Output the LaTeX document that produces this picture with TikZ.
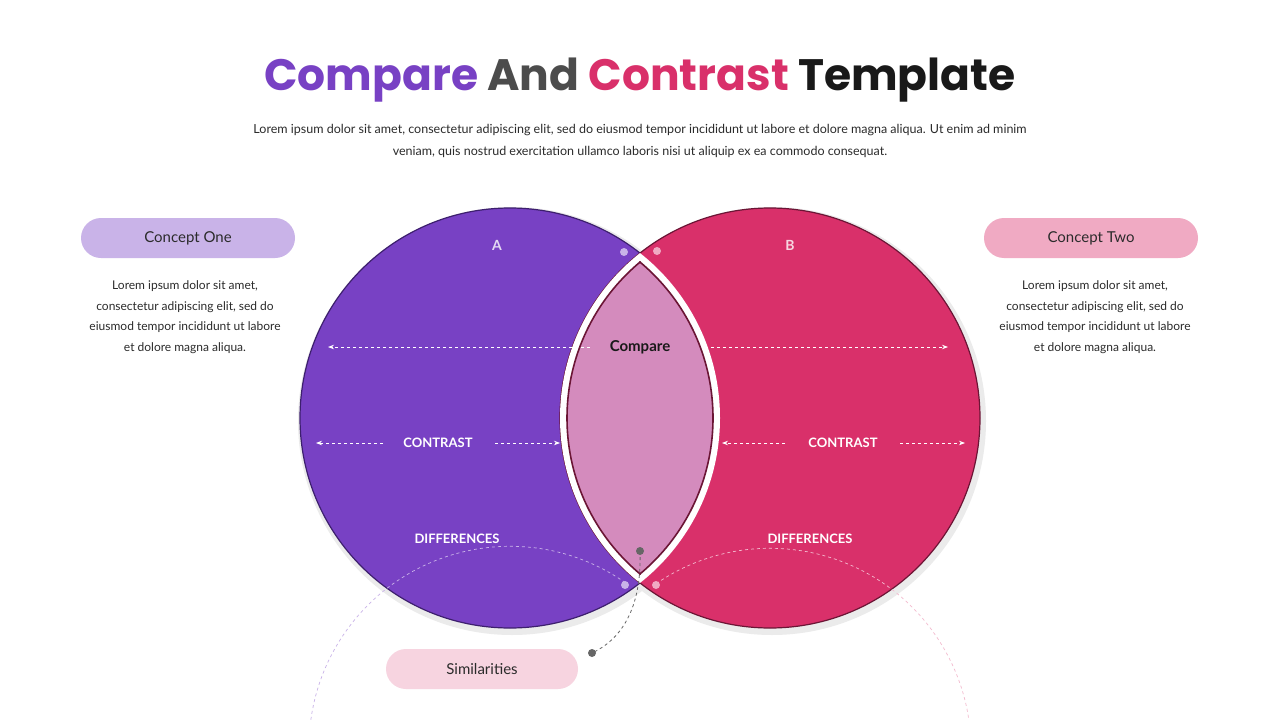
\documentclass[tikz,border=0pt]{standalone}
\usepackage{fontspec}
\setmainfont{Lato}
\newfontfamily\titlefont{Poppins}
\usetikzlibrary{arrows.meta}
\definecolor{cpurple}{HTML}{7841C4}
\definecolor{cpink}{HTML}{D9306A}
\definecolor{clens}{HTML}{D48BBD}
\definecolor{dpurple}{HTML}{3D1F6E}
\definecolor{dmaroon}{HTML}{6B1535}
\definecolor{pillA}{HTML}{C9B3E8}
\definecolor{pillB}{HTML}{F0AAC3}
\definecolor{pillC}{HTML}{F7D4E0}
\definecolor{txt}{HTML}{2B2B2B}
\begin{document}
\begin{tikzpicture}[x=1pt,y=-1pt,
  pill/.style={rounded corners=20pt,minimum width=214pt,minimum height=40pt,font=\fontsize{15}{18}\selectfont,text=txt},
  body/.style={align=center,font=\fontsize{12}{20.5}\selectfont,text=txt},
  lbl/.style={text=white,font=\bfseries\fontsize{13}{15}\selectfont},
  arr/.style={white,dashed,line width=0.8pt,-{Stealth[length=6pt]}},
  inner/.style={dashed,line width=0.7pt}]
\useasboundingbox[fill=white] (0,0) rectangle (1280,720);
% title
\node (title) at (640,80) {\titlefont\bfseries\fontsize{44}{50}\selectfont\textcolor{cpurple}{Compare} \textcolor{black!70}{And} \textcolor{cpink}{Contrast} \textcolor{black!90}{Template}};
\node[body,font=\fontsize{12.5}{22}\selectfont] (sub) at (640,141) {Lorem ipsum dolor sit amet, consectetur adipiscing elit, sed do eiusmod tempor incididunt ut labore et dolore magna aliqua. Ut enim ad minim\\veniam, quis nostrud exercitation ullamco laboris nisi ut aliquip ex ea commodo consequat.};
% circles
\fill[black!8] (512,421) circle (214pt);
\fill[black!8] (772,421) circle (214pt);
\fill[white] (510,418) circle (210pt);
\fill[white] (770,418) circle (210pt);
\draw[fill=cpurple,draw=dpurple,line width=1.2pt] (510,418) circle (210pt);
\draw[fill=cpink,draw=dmaroon,line width=1.2pt] (770,418) circle (210pt);
\begin{scope}
\clip (510,418) circle (210pt);
\fill[white] (770,418) circle (210pt);
\end{scope}
\begin{scope}
\clip (510,418) circle (203pt);
\fill[clens] (770,418) circle (203pt);
\end{scope}
\begin{scope}
\clip (510,418) circle (203.8pt);
\draw[dmaroon,line width=1.6pt] (770,418) circle (203pt);
\end{scope}
\begin{scope}
\clip (770,418) circle (203.8pt);
\draw[dmaroon,line width=1.6pt] (510,418) circle (203pt);
\end{scope}
% inner dashed arcs
\draw[inner,pillA] (510,418) ++(55:201) arc[start angle=-55,end angle=-305,radius=201];
\draw[inner,pillB!80] (770,418) ++(124.5:201) arc[start angle=-124.5,end angle=124.5,radius=201];
\fill[pillA] (624,252) circle (4pt);
\fill[pillA] (625,585) circle (4pt);
\fill[pillB] (657,251) circle (4pt);
\fill[pillB] (656,585) circle (4pt);
% labels
\node[text=white!80!cpurple,font=\bfseries\fontsize{14}{16}\selectfont] (A) at (497,245) {A};
\node[text=white!80!cpink,font=\bfseries\fontsize{14}{16}\selectfont] (B) at (790,245) {B};
\node[text=black!90,font=\bfseries\fontsize{15}{18}\selectfont] (cmp) at (640,347) {Compare};
\coordinate (c1) at (590,347); \coordinate (c1e) at (328,347);
\coordinate (c2) at (705,347); \coordinate (c2e) at (948,347);
\draw[arr] (c1) -- (c1e);
\draw[arr] (c2) -- (c2e);
\node[lbl] (ctA) at (438,443) {CONTRAST};
\node[lbl] (ctB) at (843,443) {CONTRAST};
\coordinate (a1) at (383,443); \coordinate (a1e) at (316,443);
\coordinate (a2) at (495,443); \coordinate (a2e) at (560,443);
\coordinate (b1) at (785,443); \coordinate (b1e) at (722,443);
\coordinate (b2) at (900,443); \coordinate (b2e) at (965,443);
\draw[arr] (a1) -- (a1e); \draw[arr] (a2) -- (a2e);
\draw[arr] (b1) -- (b1e); \draw[arr] (b2) -- (b2e);
\node[lbl] (dA) at (457,539) {DIFFERENCES};
\node[lbl] (dB) at (810,539) {DIFFERENCES};
% side pills
\node[pill,fill=pillA] (p1) at (188,238) {Concept One};
\node[pill,fill=pillB] (p2) at (1091,238) {Concept Two};
\node[body] (t1) at (185,317) {Lorem ipsum dolor sit amet,\\consectetur adipiscing elit, sed do\\eiusmod tempor incididunt ut labore\\et dolore magna aliqua.};
\node[body] (t2) at (1095,317) {Lorem ipsum dolor sit amet,\\consectetur adipiscing elit, sed do\\eiusmod tempor incididunt ut labore\\et dolore magna aliqua.};
% similarities
\node[pill,fill=pillC,minimum width=192pt] (sim) at (482,669) {Similarities};
\coordinate (s1) at (640,551);
\coordinate (s2) at (592,653);
\draw[dashed,black!60,line width=0.8pt] (s1) .. controls (642,610) and (620,640) .. (s2);
\fill[black!60] (s1) circle (4pt);
\fill[black!60] (s2) circle (4pt);
\end{tikzpicture}
\end{document}
